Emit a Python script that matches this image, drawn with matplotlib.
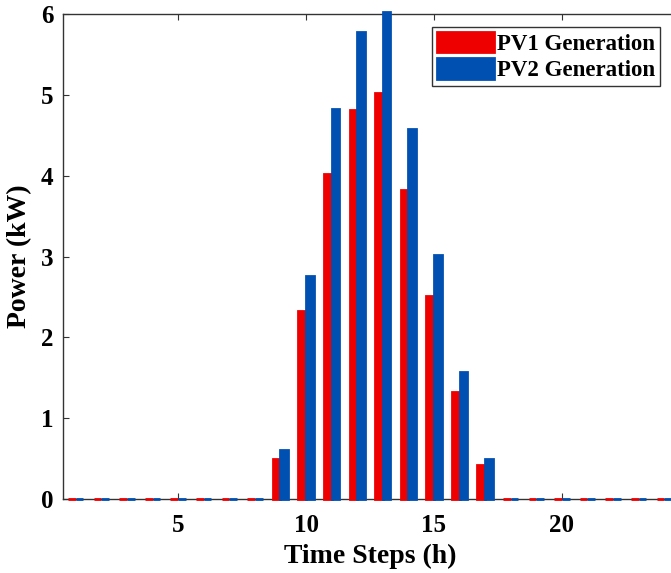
import numpy as np
import matplotlib
matplotlib.use('Agg')
from matplotlib import pyplot as plt

hours = list(range(1, 25))
pv1 = [0, 0, 0, 0, 0, 0, 0, 0, 0.50, 2.32, 4.02, 4.81, 5.02, 3.82, 2.51, 1.32, 0.42,
       0, 0, 0, 0, 0, 0, 0]
pv2 = [0, 0, 0, 0, 0, 0, 0, 0, 0.61, 2.76, 4.82, 5.78, 6.03, 4.58, 3.02, 1.57, 0.49,
       0, 0, 0, 0, 0, 0, 0]
labels = ['PV1 Generation', 'PV2 Generation']

plt.rcParams['font.family'] = ['Liberation Serif', 'DejaVu Serif']
plt.rcParams['font.weight'] = 'bold'

fig = plt.figure(figsize=(6.71, 5.73), dpi=100)
# axes runs a bit past the right edge, like the cropped original
ax = fig.add_axes([63 / 671, (573 - 499) / 573, 614 / 671, 485 / 573])

x = np.array(hours)
w = 0.30
# zero-height bars still show as small stubs on the baseline, as in MATLAB
ax.bar(x - w / 2, pv1, w, color='#EE0000', edgecolor='#EE0000', linewidth=2.0,
       label=labels[0], clip_on=False, zorder=3)
ax.bar(x + w / 2, pv2, w, color='#0050B2', edgecolor='#0050B2', linewidth=2.0,
       label=labels[1], clip_on=False, zorder=3)

ax.set_xlim(0.5, 24.5)
ax.set_ylim(0, 6)
ax.set_xticks([5, 10, 15, 20])
ax.set_yticks(range(0, 7))
ax.tick_params(direction='in', top=True, right=True, labelsize=18, length=4,
               color='#333333')
ax.tick_params(axis='x', pad=11)
ax.tick_params(axis='y', pad=7)
for s in ax.spines.values():
    s.set_color('#333333')
    s.set_linewidth(1.0)

ax.set_xlabel('Time Steps (h)', fontsize=20, fontweight='bold', labelpad=5)
ax.set_ylabel('Power (kW)', fontsize=20, fontweight='bold', labelpad=6)

leg = ax.legend(loc='upper left', bbox_to_anchor=(369 / 614, 1 - 13 / 485),
                fontsize=16.5, handlelength=2.5, handleheight=1.0,
                handletextpad=0.15, borderpad=0.2, labelspacing=0.15,
                borderaxespad=0, fancybox=False, framealpha=1,
                edgecolor='#333333')
leg.get_frame().set_linewidth(1.0)
leg.set_zorder(5)
for t in leg.get_texts():
    t.set_fontweight('bold')

plt.savefig('out.png', dpi=100)
